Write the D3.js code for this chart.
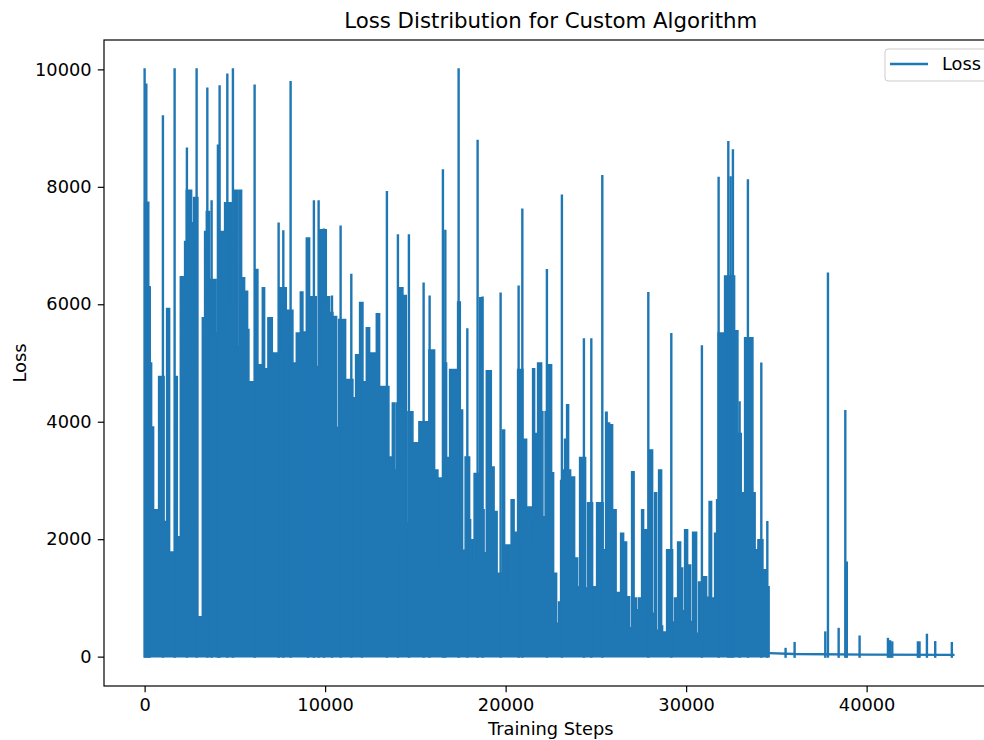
<!DOCTYPE html>
<html>
<head>
<meta charset="utf-8">
<script src="https://cdn.jsdelivr.net/npm/d3@7"></script>
<style>
  body { margin: 0; background: #fff; }
  svg { display: block; font-family: "DejaVu Sans", sans-serif; }
</style>
</head>
<body>
<div id="chart"></div>
<script>
// dense part of the loss curve: upper edge of the filled mass (step -> loss)
var bandSteps = [0, 194, 305, 388, 499, 776, 1080, 1219, 1385, 1717, 1812, 1978, 2216, 2310, 2604, 2715,
    2953, 3197, 3324, 3418, 3601, 3961, 4061, 4432, 4803, 4986, 5136, 5224, 5374, 5540, 5706, 5778,
    6149, 6277, 6521, 6648, 6831, 7075, 7479, 7850, 8216, 8404, 8626, 8770, 8958, 9141, 9512, 9695,
    10066, 10249, 10432, 10637, 10748, 11135, 11540, 11689, 11911, 12094, 12282, 12465, 12836, 13019,
    13534, 13601, 13684, 13723, 13850, 13944, 14127, 14310, 14498, 14587, 14864, 15196, 15750, 16066,
    16249, 16398, 16454, 16526, 16731, 16897, 17340, 17490, 17617, 17756, 18005, 18060, 18199, 18254,
    18559, 18709, 18808, 18930, 19207, 19362, 19529, 19817, 19944, 20166, 20249, 20304, 20470, 20664,
    20958, 21163, 21246, 21423, 21495, 21606, 21700, 21772, 21994, 22066, 22188, 22354, 22548, 22659,
    22825, 22936, 23046, 23174, 23268, 23379, 23490, 23600, 23822, 23988, 24099, 24431, 24542, 24819,
    25041, 25401, 25539, 25623, 25761, 25927, 26121, 26204, 26370, 26537, 26703, 26869, 26980, 27118,
    27257, 27368, 27534, 27645, 27977, 28143, 28254, 28365, 28476, 28642, 28697, 28919, 29251, 29362,
    29528, 29694, 29805, 29916, 30082, 30248, 30359, 30581, 30692, 30969, 31135, 31273, 31412, 31578,
    31689, 31772, 32132, 32686, 32869, 33057, 33240, 33700, 33822, 33977, 34254, 34431, 34597];
var bandLoss = [7730, 6290, 5000, 3910, 2500, 4770, 2300, 5930, 1780, 4770, 2040, 6470, 7070, 7940, 7390, 7820,
    680, 5770, 7240, 7580, 6420, 5510, 7240, 7730, 6000, 7940, 5280, 7940, 6450, 6220, 5570, 4680,
    6590, 4970, 6280, 4900, 5770, 5170, 6280, 5900, 5000, 5510, 6210, 5530, 7130, 6130, 4940, 7270,
    6130, 5860, 5790, 3900, 5740, 4720, 4410, 5140, 6030, 4680, 5600, 5170, 5840, 4600,
    3400, 2040, 3400, 4320, 3180, 4320, 6280, 6150, 2270, 4170, 3640, 4000, 5220, 3180,
    3040, 1480, 3040, 5000, 3390, 4890, 6040, 4200, 1810, 3400, 2330, 1990, 1650, 3120,
    6110, 2500, 1770, 4870, 3230, 2470, 1420, 3860, 1900, 1090, 1900, 2670, 2120, 4890,
    3700, 1990, 2550, 1820, 4900, 3800, 2380, 5000, 4170, 2380, 4170, 4970, 3130, 1420,
    570, 930, 3000, 3180, 3700, 4290, 3180, 3060, 1680, 1190, 3390, 1170, 2620, 1190,
    2620, 1820, 4160, 3980, 3950, 2500, 500, 1090, 2100, 1950, 1020, 490, 3150, 1000,
    800, 1000, 2500, 2160, 3520, 740, 2790, 450, 3180, 520, 420, 1820, 590, 1000,
    1950, 1510, 780, 2160, 1560, 600, 2120, 400, 1270, 1360, 1010, 2640, 1000, 2100,
    2670, 5510, 6480, 5550, 3800, 2790, 5430, 2790, 1820, 1990, 1480, 1190, 60];

// single high readings (peaks of the curve)
var spikeSteps = [0, 94, 205, 277, 1014, 1662, 2343, 2881, 3474, 3712, 4061, 4155, 4582, 4892, 6094,
    7424, 7684, 8088, 9047, 9379, 9640, 9933, 10380, 10858, 11451, 12038, 13423, 14033, 14642, 15457,
    15789, 16526, 16659, 17396, 17878, 18448, 18725, 19722, 20720, 20925, 22287, 23118, 24337, 24747,
    25356, 27905, 29179, 30874, 31800, 32337, 32464, 32592, 32963, 33423, 34165, 34498,
    35510, 36010, 37710, 37857, 38450, 38818, 38900, 39610, 41180, 41300, 41420, 42840, 42930,
    43340, 43800, 44720];
var spikeLoss = [10000, 9740, 7730, 6290, 9200, 10000, 8650, 10000, 9670, 7750, 8700, 9710, 9910, 10000, 9720,
    7370, 7240, 9780, 7110, 7750, 7750, 7270, 6130, 7320, 6500, 6010, 7910, 7170, 7170, 6350,
    6130, 8280, 7250, 10000, 5570, 8780, 6110, 6180, 6300, 7610, 6580, 7850, 5400, 5400,
    8180, 6190, 5490, 5280, 8150, 8760, 8160, 8620, 4330, 8110, 4990, 2290,
    130, 230, 410, 6520, 470, 4180, 1600, 340, 300, 260, 240, 240, 240,
    370, 245, 230];

// low flat tail after the run settles
var tailSteps = [34597, 36000, 40000, 44870];
var tailLoss = [60, 45, 35, 30];

var xTicks = [0, 10000, 20000, 30000, 40000];
var yTicks = [0, 2000, 4000, 6000, 8000, 10000];

var width = 984,
    height = 740,
    blue = "#1f77b4",
    fontSize = "17.8px",
    lineWidth = 2.4,
    margin = {top: 40, right: 0, bottom: 54, left: 104};

var x = d3.scaleLinear().domain([-2250, 47250]).range([margin.left, 997.5]);
var y = d3.scaleLinear().domain([-500, 10500]).range([height - margin.bottom, margin.top]);

var svg = d3.select("#chart").append("svg")
    .attr("width", width)
    .attr("height", height);

svg.append("defs").append("clipPath").attr("id", "plot")
    .append("rect")
    .attr("x", x.range()[0]).attr("y", y.range()[1])
    .attr("width", x.range()[1] - x.range()[0])
    .attr("height", y.range()[0] - y.range()[1]);

var plot = svg.append("g").attr("clip-path", "url(#plot)");

var band = bandSteps.map(function(s, i){ return {step: s, loss: bandLoss[i]}; });
var area = d3.area()
    .x(function(d){ return x(d.step); })
    .y0(y(0))
    .y1(function(d){ return y(d.loss); })
    .curve(d3.curveStepAfter);

plot.append("path")
    .datum(band)
    .attr("d", area)
    .attr("fill", blue)
    .attr("stroke", blue)
    .attr("stroke-width", 1.5);

var line = d3.line()
    .x(function(d){ return x(d[0]); })
    .y(function(d){ return y(d[1]); });

plot.append("path")
    .datum(tailSteps.map(function(s, i){ return [s, tailLoss[i]]; }))
    .attr("d", line)
    .attr("fill", "none")
    .attr("stroke", blue)
    .attr("stroke-width", lineWidth);

plot.selectAll(".spike")
    .data(spikeSteps.map(function(s, i){ return [[s, 0], [s, spikeLoss[i]]]; }))
    .enter().append("path")
    .attr("class", "spike")
    .attr("d", line)
    .attr("fill", "none")
    .attr("stroke", blue)
    .attr("stroke-width", lineWidth)
    .attr("stroke-linecap", "square");

// axes
var xAxis = d3.axisBottom(x).tickValues(xTicks).tickSizeOuter(0).tickSize(6.2).tickPadding(6.2)
    .tickFormat(d3.format("d"));
var yAxis = d3.axisLeft(y).tickValues(yTicks).tickSizeOuter(0).tickSize(6.2).tickPadding(6.2)
    .tickFormat(d3.format("d"));

var gx = svg.append("g")
    .attr("transform", "translate(0," + y.range()[0] + ")")
    .call(xAxis);
var gy = svg.append("g")
    .attr("transform", "translate(" + x.range()[0] + ",0)")
    .call(yAxis);

[gx, gy].forEach(function(g){
    g.select(".domain").remove();
    g.selectAll("line").attr("stroke", "#000").attr("stroke-width", 1.2);
    g.selectAll("text").attr("fill", "#000").style("font-size", fontSize)
        .style("font-family", "DejaVu Sans, sans-serif");
});

// spines
svg.append("rect")
    .attr("x", x.range()[0]).attr("y", y.range()[1])
    .attr("width", x.range()[1] - x.range()[0])
    .attr("height", y.range()[0] - y.range()[1])
    .attr("fill", "none")
    .attr("stroke", "#000")
    .attr("stroke-width", 1.2);

var cx = (x.range()[0] + x.range()[1]) / 2;

svg.append("text")
    .attr("x", cx).attr("y", 28)
    .attr("text-anchor", "middle")
    .style("font-size", "21.3px")
    .text("Loss Distribution for Custom Algorithm");

svg.append("text")
    .attr("x", cx).attr("y", 735)
    .attr("text-anchor", "middle")
    .style("font-size", fontSize)
    .text("Training Steps");

svg.append("text")
    .attr("transform", "translate(26," + ((y.range()[0] + y.range()[1]) / 2) + ") rotate(-90)")
    .attr("text-anchor", "middle")
    .style("font-size", fontSize)
    .text("Loss");

// legend
var legend = svg.append("g");
legend.append("rect")
    .attr("x", 885).attr("y", 49)
    .attr("width", 106).attr("height", 32)
    .attr("rx", 3)
    .attr("fill", "#fff").attr("fill-opacity", 0.8)
    .attr("stroke", "#cccccc").attr("stroke-width", 1);
legend.append("line")
    .attr("x1", 890).attr("x2", 928)
    .attr("y1", 64).attr("y2", 64)
    .attr("stroke", blue).attr("stroke-width", lineWidth);
legend.append("text")
    .attr("x", 942).attr("y", 70)
    .style("font-size", fontSize)
    .text("Loss");
</script>
</body>
</html>
